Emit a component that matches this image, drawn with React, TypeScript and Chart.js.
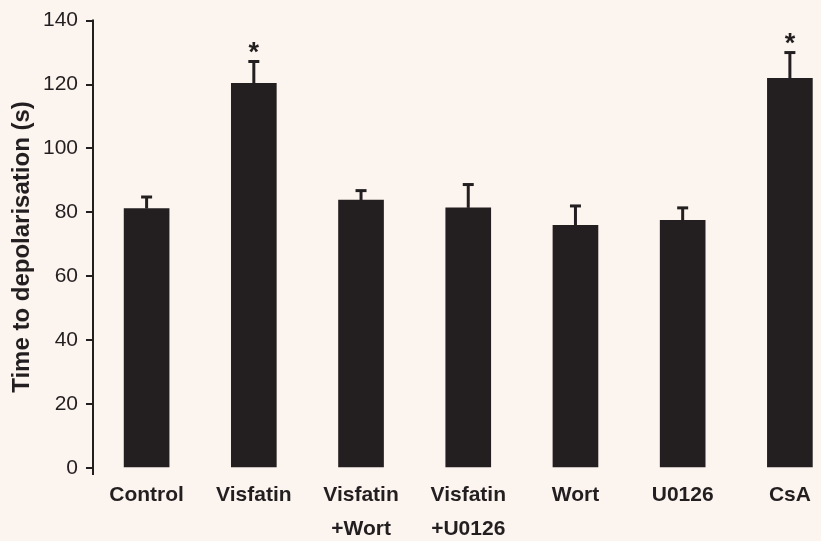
import { useEffect, useRef } from 'react';
import { Chart, registerables } from 'chart.js';

Chart.register(...registerables);

// Treatment groups (multi-line labels where the name wraps)
const groups: string[][] = [
  ['Control'],
  ['Visfatin'],
  ['Visfatin', '+Wort'],
  ['Visfatin', '+U0126'],
  ['Wort'],
  ['U0126'],
  ['CsA'],
];

// Mean time to depolarisation (s) and its error (s)
const meanTime = [81.2, 120.4, 83.8, 81.4, 75.9, 77.5, 121.9];
const errTime = [3.6, 6.8, 3.0, 7.3, 6.1, 3.9, 8.1];

// Significance markers drawn above the error bars
const significance = ['', '*', '', '', '', '', '*'];

const yMin = 0;
const yMax = 140;
const yStep = 20;

const INK = '#231f20';
const PAPER = '#fcf4ef';
const FONT = '"Liberation Sans", Arial, Helvetica, sans-serif';

const annotations = {
  id: 'annotations',
  afterDatasetsDraw(chart: any) {
    const { ctx, chartArea, scales } = chart;
    const xs = scales.x;
    const ys = scales.y;
    ctx.save();
    ctx.strokeStyle = INK;
    ctx.fillStyle = INK;
    ctx.lineCap = 'butt';

    // error bars (upper half only) and significance stars
    meanTime.forEach((m, i) => {
      const x = xs.getPixelForValue(i);
      const yTop = ys.getPixelForValue(m);
      const yCap = ys.getPixelForValue(m + errTime[i]);
      ctx.lineWidth = 3;
      ctx.beginPath();
      ctx.moveTo(x, yTop);
      ctx.lineTo(x, yCap);
      ctx.stroke();
      ctx.beginPath();
      ctx.moveTo(x - 5.5, yCap);
      ctx.lineTo(x + 5.5, yCap);
      ctx.stroke();

      if (significance[i]) {
        ctx.font = `bold 27px ${FONT}`;
        ctx.textAlign = 'center';
        ctx.textBaseline = 'alphabetic';
        const mt = ctx.measureText(significance[i]);
        const cy = yCap - 14.5;
        const base = cy + (mt.actualBoundingBoxAscent - mt.actualBoundingBoxDescent) / 2;
        ctx.fillText(significance[i], x, base);
      }
    });

    // vertical axis line, running a little past zero
    ctx.lineWidth = 2;
    ctx.beginPath();
    ctx.moveTo(chartArea.left, chartArea.top - 1);
    ctx.lineTo(chartArea.left, chartArea.bottom + 7);
    ctx.stroke();

    // y-axis title
    ctx.save();
    ctx.translate(22, 247);
    ctx.rotate(-Math.PI / 2);
    ctx.font = `bold 24px ${FONT}`;
    ctx.textAlign = 'center';
    ctx.textBaseline = 'middle';
    ctx.fillText('Time to depolarisation (s)', 0, 0);
    ctx.restore();

    ctx.restore();
  },
};

export default function App() {
  const canvasRef = useRef<HTMLCanvasElement | null>(null);

  useEffect(() => {
    const canvas = canvasRef.current;
    if (!canvas) return;
    const chart = new Chart(canvas, {
      type: 'bar',
      data: {
        datasets: [
          {
            data: meanTime.map((v, i) => ({ x: i, y: v })),
            backgroundColor: INK,
            borderWidth: 0,
            barThickness: 45,
          },
        ],
      },
      options: {
        responsive: false,
        animation: false,
        devicePixelRatio: 1,
        layout: { padding: { top: 18, right: 3, left: 0, bottom: 0 } },
        plugins: {
          legend: { display: false },
          tooltip: { enabled: false },
        },
        scales: {
          x: {
            type: 'linear',
            offset: false,
            min: -0.5,
            max: 6.25,
            afterBuildTicks: (scale: any) => {
              scale.ticks = groups.map((_, i) => ({ value: i }));
            },
            afterFit: (scale: any) => {
              scale.height = 73;
            },
            grid: { display: false, drawTicks: false, offset: false },
            border: { display: false },
            ticks: {
              autoSkip: false,
              maxRotation: 0,
              minRotation: 0,
              padding: 10,
              color: INK,
              font: { family: FONT, size: 21, weight: 'bold', lineHeight: 1.62 },
              callback: (value: any) => groups[Math.round(Number(value))] ?? '',
            },
          },
          y: {
            min: yMin,
            max: yMax,
            afterFit: (scale: any) => {
              scale.width = 93;
            },
            grid: {
              display: true,
              drawOnChartArea: false,
              drawTicks: true,
              tickLength: 7,
              tickColor: INK,
              lineWidth: 2,
            },
            border: { display: false },
            ticks: {
              stepSize: yStep,
              padding: 8,
              color: INK,
              font: { family: FONT, size: 21 },
            },
          },
        },
      },
      plugins: [annotations],
    } as any);
    return () => chart.destroy();
  }, []);

  return (
    <div
      style={{
        position: 'fixed',
        left: 0,
        top: 0,
        width: 821,
        height: 541,
        background: PAPER,
      }}
    >
      <canvas ref={canvasRef} width={821} height={541} style={{ display: 'block' }} />
    </div>
  );
}
